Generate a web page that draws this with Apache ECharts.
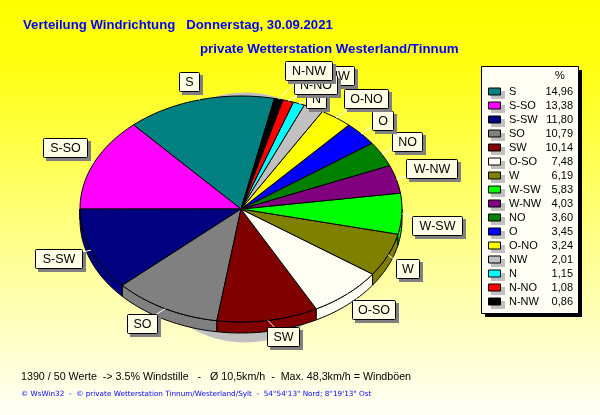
<!DOCTYPE html>
<html><head><meta charset="utf-8">
<style>html,body{margin:0;padding:0;background:#fff}#c{width:600px;height:415px}</style>
<script src="https://cdn.jsdelivr.net/npm/echarts@6/dist/echarts.min.js"></script>
</head><body><div id="c"></div>
<script>
const categories = ['S','S-SO','S-SW','SO','SW','O-SO','W','W-SW','W-NW','NO','O','O-NO','NW','N','N-NO','N-NW'];
const shares = [14.96,13.38,11.80,10.79,10.14,7.48,6.19,5.83,4.03,3.60,3.45,3.24,2.01,1.15,1.08,0.86];
const shareLabels = ['14,96','13,38','11,80','10,79','10,14','7,48','6,19','5,83','4,03','3,60','3,45','3,24','2,01','1,15','1,08','0,86'];
const colors = ['#008080','#ff00ff','#000080','#808080','#800000','#fffff5','#808000','#00ff00','#800080','#008000','#0000ff','#ffff00','#c0c0c0','#00ffff','#ff0000','#000000'];
// label box layout: centre x, centre y, width
const labelBoxes = [[189,81,20],[65,147,44],[58,258,47],[142,323,30],[283,336,32],[373,309,43],[407,268,23],[437,225,50],[431,168,51],[407,141,30],[382,120,21],[366,98,44],[339,75,30],[316,98,20],[315,84,43],[308,70,47]];

const PIE = {cx:241, cy:209, rx:161, ry:113, depth:11, start:12};
const FONT = '"Liberation Sans", Arial, sans-serif';
const spans = (() => {
  const out = new Array(shares.length); let a = PIE.start;
  for (let i = shares.length-1; i >= 0; i--) { const w = shares[i]*3.6; out[i]=[a,a+w]; a+=w; }
  return out;
})();
const pt = (deg, dy=0) => { const t = deg*Math.PI/180; return [PIE.cx+PIE.rx*Math.sin(t), PIE.cy-PIE.ry*Math.cos(t)+dy]; };
const arc = (a,b,dy=0) => { const p=[]; const n=Math.max(2,Math.ceil(Math.abs(b-a)/1.5)); for(let k=0;k<=n;k++) p.push(pt(a+(b-a)*k/n,dy)); return p; };
const idx = categories.map((_,i)=>i);
const base = {type:'custom', coordinateSystem:'none', silent:true, animation:false, data:idx, clip:false};

const lowerRange = ([a,b]) => {
  for (const off of [0,360]) { const lo=Math.max(a,90+off), hi=Math.min(b,270+off); if (hi>lo) return [lo,hi]; }
  return null;
};

const seriesShadow = Object.assign({},base,{z:1,data:[0],renderItem:()=>{
  const p=[]; for(let a=0;a<360;a+=3){const t=a*Math.PI/180;p.push([245+115*Math.sin(t),217.5-125*Math.cos(t)]);}
  return {type:'polygon',shape:{points:p},style:{fill:'#c0c0c0',opacity:1}};
}});
const seriesSides = Object.assign({},base,{z:2,renderItem:(p)=>{
  const r=lowerRange(spans[p.dataIndex]); if(!r) return {type:'group',children:[]};
  const poly=arc(r[0],r[1],0).concat(arc(r[1],r[0],PIE.depth));
  return {type:'polygon',shape:{points:poly},style:{fill:colors[p.dataIndex],stroke:'#000',lineWidth:1}};
}});
const seriesTops = Object.assign({},base,{z:3,renderItem:(p)=>{
  const s=spans[p.dataIndex];
  return {type:'polygon',shape:{points:[[PIE.cx,PIE.cy]].concat(arc(s[0],s[1]))},style:{fill:colors[p.dataIndex],stroke:'#000',lineWidth:1}};
}});
const seriesLeaders = Object.assign({},base,{z:4,renderItem:(p)=>{
  const s=spans[p.dataIndex], m=pt((s[0]+s[1])/2), c=labelBoxes[p.dataIndex];
  return {type:'line',shape:{x1:m[0],y1:m[1],x2:c[0],y2:c[1]},style:{stroke:'#ffffff',lineWidth:1}};
}});
const seriesLabels = Object.assign({},base,{z:5,renderItem:(p)=>{
  const i=p.dataIndex, c=labelBoxes[i], t=categories[i], bw=c[2], bh=19;
  const x=Math.round(c[0]-bw/2), y=Math.round(c[1]-bh/2);
  return {type:'group',children:[
    {type:'rect',shape:{x:x+3,y:y+3,width:bw+1,height:bh+1},style:{fill:'#808080'}},
    {type:'rect',shape:{x:x+.5,y:y+.5,width:bw,height:bh,r:1},style:{fill:'#ffffe6',stroke:'#000',lineWidth:1}},
    {type:'text',style:{x:x+bw/2+.5,y:y+bh/2+1,text:t,fill:'#000',font:'12.5px '+FONT,align:'center',verticalAlign:'middle'}}
  ]};
}});
const LEG = {x:481,y:66,w:97,h:247,row0:92,step:14};
const seriesLegendBox = Object.assign({},base,{z:6,data:[0],renderItem:()=>({type:'group',children:[
  {type:'rect',shape:{x:LEG.x+4,y:LEG.y+4,width:LEG.w,height:LEG.h},style:{fill:'#000'}},
  {type:'rect',shape:{x:LEG.x+.5,y:LEG.y+.5,width:LEG.w,height:LEG.h},style:{fill:'#fffff5',stroke:'#000',lineWidth:1}},
  {type:'text',style:{x:560,y:76,text:'%',fill:'#000',font:'11px '+FONT,align:'center',verticalAlign:'middle'}}
]})});
const seriesLegend = Object.assign({},base,{z:7,renderItem:(p)=>{
  const i=p.dataIndex, y=LEG.row0+i*LEG.step;
  return {type:'group',children:[
    {type:'rect',shape:{x:491,y:y-1,width:14,height:8},style:{fill:'#c0c0c0'}},
    {type:'rect',shape:{x:488.5,y:y-4,width:12,height:7},style:{fill:colors[i],stroke:'#000',lineWidth:1}},
    {type:'text',style:{x:509,y:y,text:categories[i],fill:'#000',font:'11px '+FONT,align:'left',verticalAlign:'middle'}},
    {type:'text',style:{x:573,y:y,text:shareLabels[i],fill:'#000',font:'11px '+FONT,align:'right',verticalAlign:'middle'}}
  ]};
}});

const chart = echarts.init(document.getElementById('c'),null,{renderer:'canvas',width:600,height:415});
chart.setOption({
  animation:false,
  backgroundColor:{type:'linear',x:0,y:0,x2:0,y2:1,colorStops:[{offset:0,color:'#ffff00'},{offset:.15,color:'#ffff10'},{offset:.6,color:'#ffff90'},{offset:1,color:'#fffff8'}]},
  title:[
    {text:'Verteilung Windrichtung   Donnerstag, 30.09.2021',left:23,top:18,padding:0,textStyle:{color:'#0000ff',fontSize:13.2,fontWeight:'bold',fontFamily:FONT,lineHeight:15}},
    {text:'private Wetterstation Westerland/Tinnum',left:200,top:42,padding:0,textStyle:{color:'#0000ff',fontSize:13.3,fontWeight:'bold',fontFamily:FONT,lineHeight:15}},
    {text:'1390 / 50 Werte  -> 3.5% Windstille   -   Ø 10,5km/h  -  Max. 48,3km/h = Windböen',left:21,top:371,padding:0,textStyle:{color:'#000',fontSize:10.7,fontWeight:'normal',fontFamily:FONT,lineHeight:13}},
    {text:'© WsWin32  -  © private Wetterstation Tinnum/Westerland/Sylt  -  54°54\'13" Nord; 8°19\'13" Ost',left:21,top:389,padding:0,textStyle:{color:'#0000ff',fontSize:7.25,fontWeight:'normal',fontFamily:'"DejaVu Sans", sans-serif',lineHeight:10}}
  ],
  series:[seriesShadow,seriesSides,seriesTops,seriesLeaders,seriesLabels,seriesLegendBox,seriesLegend]
});
</script></body></html>
